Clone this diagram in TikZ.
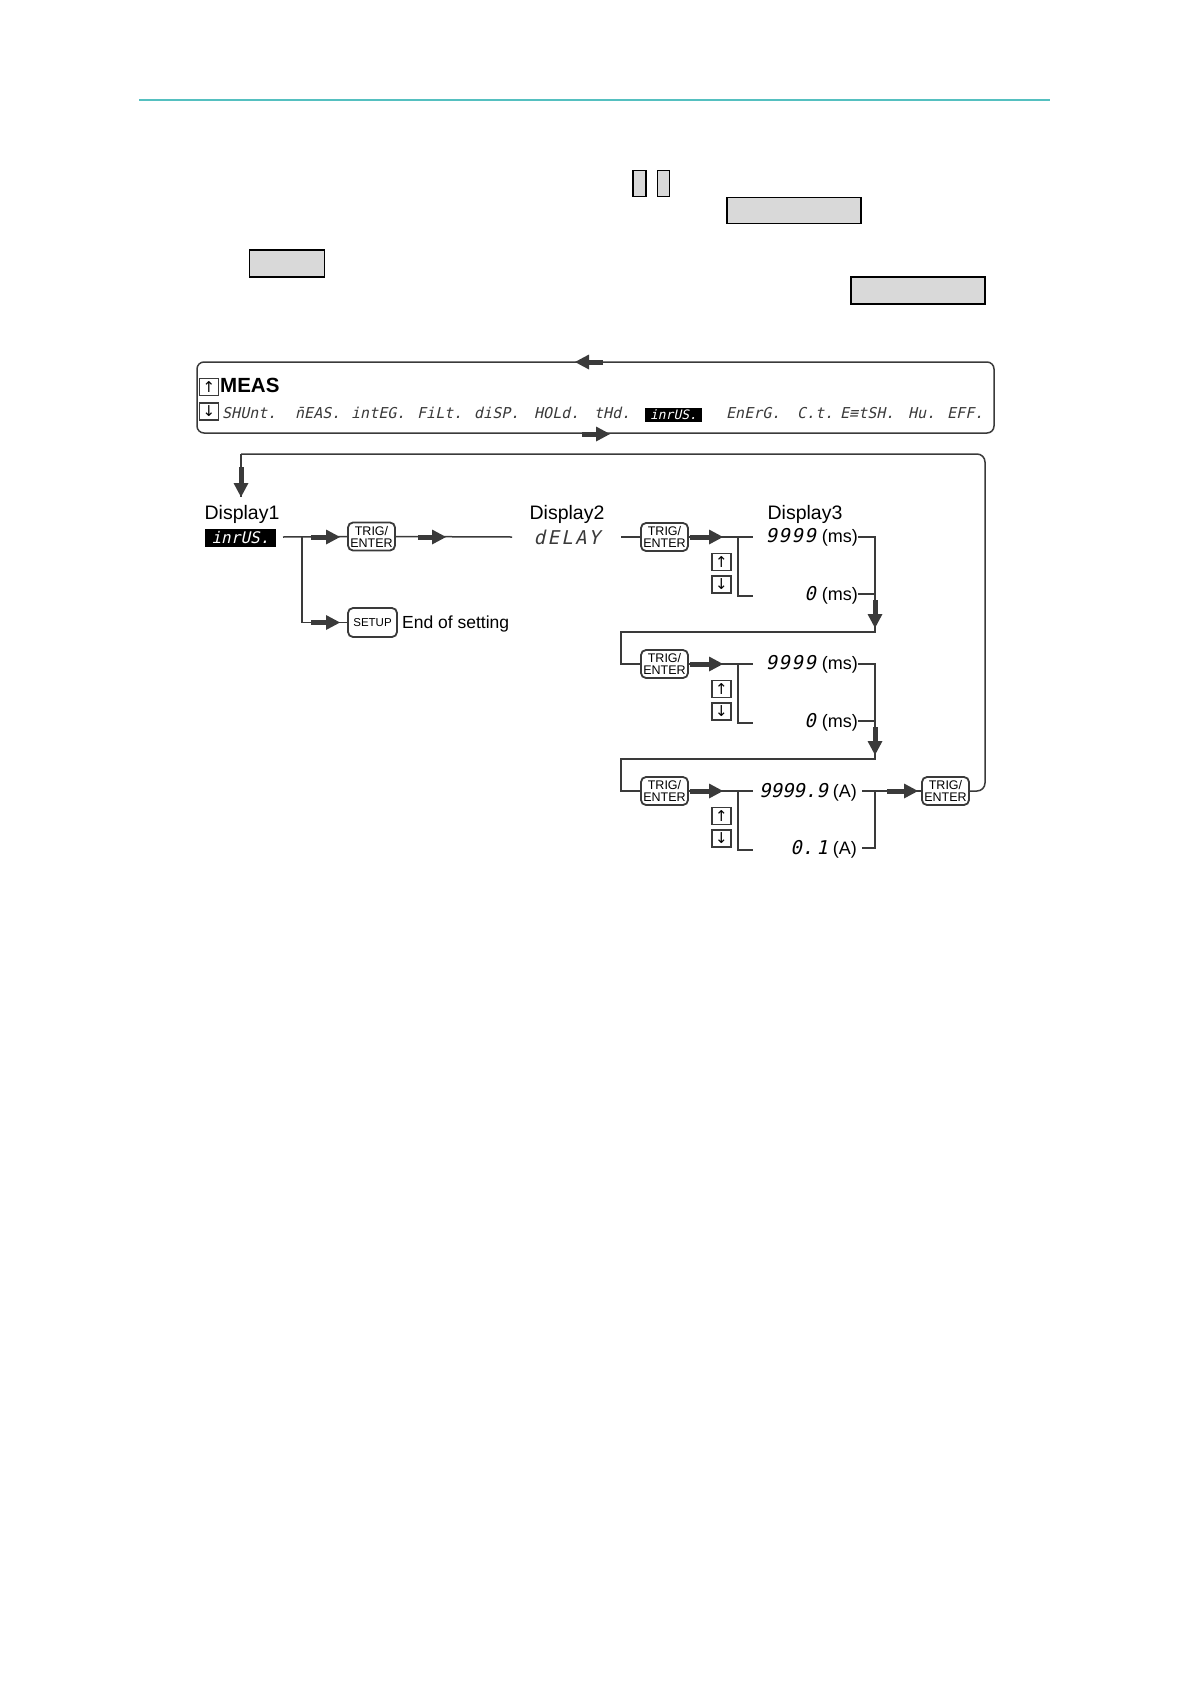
\documentclass[tikz,border=0pt]{standalone}
\usepackage{fontspec}
\setmainfont{Liberation Sans}
\newfontfamily\segf{DejaVu Sans Mono}[FakeSlant=0.22]
\newfontfamily\djv{DejaVu Sans}
\usetikzlibrary{arrows.meta,calc}
\definecolor{teal1}{HTML}{55C0C0}
\definecolor{ink}{HTML}{3A3A3A}
\definecolor{boxgray}{HTML}{D9D9D9}
\newcommand{\segbig}{\segf\fontsize{19}{19}\selectfont\addfontfeature{LetterSpace=8}}
\newcommand{\segplain}{\segf\fontsize{19}{19}\selectfont}
\tikzset{
 ln/.style={draw=ink, line width=1.5pt},
 fat/.style={draw=ink, line width=5pt, -{Triangle[length=14pt,width=15pt,line width=0pt]}, fill=ink},
 btn/.style={draw=ink, line width=1.8pt, rounded corners=5pt, fill=white, minimum width=47pt, minimum height=28pt, inner sep=0pt, align=center, font=\fontsize{12.5}{12}\selectfont},
 keyb/.style={draw=ink, line width=1.2pt, minimum width=19pt, minimum height=17pt, inner sep=0pt, font=\djv\fontsize{15}{15}\selectfont},
 gbox/.style={draw=black, line width=1.2pt, fill=boxgray, inner sep=0pt},
 seg/.style={font=\segf\fontsize{15}{15}\selectfont, inner sep=0pt, anchor=base west, text=ink},
 lbl/.style={font=\fontsize{19.5}{20}\selectfont, inner sep=0pt, anchor=base, text=black},
 val/.style={font=\fontsize{18}{18}\selectfont, inner sep=0pt, anchor=base east, text=black},
 hlt/.style={fill=black, text=white, inner sep=0pt},
}
\begin{document}
\begin{tikzpicture}[x=1pt,y=-1pt]
\useasboundingbox (0,0) rectangle (1190,1684);
% header line
\coordinate (tl) at (139,100);
\coordinate (tr) at (1050,100);
\draw[teal1, line width=2.8pt] (tl) -- (tr);
% gray boxes
\node[gbox, minimum width=13pt, minimum height=26pt] (gA) at (639.5,183.5) {};
\node[gbox, minimum width=12pt, minimum height=26pt] (gB) at (663.5,183.5) {};
\node[gbox, minimum width=134pt, minimum height=26pt] (gC) at (794,210.5) {};
\node[gbox, minimum width=75pt, minimum height=27pt] (gD) at (287,263.5) {};
\node[gbox, minimum width=134pt, minimum height=27pt] (gE) at (918,290.5) {};
% MEAS box
\node[draw=ink, line width=1.5pt, rounded corners=7pt, minimum width=797pt, minimum height=71pt, inner sep=0pt] (meas) at (595.5,397.5) {};
\coordinate (ta1) at (603,362); \coordinate (ta2) at (575,362);
\draw[fat] (ta1) -- (ta2);
\coordinate (ba1) at (582,434); \coordinate (ba2) at (610,434);
\draw[fat] (ba1) -- (ba2);
\node[keyb] (mu) at (209,387) {↑};
\node[keyb] (md) at (209,411.5) {↓};
\node[font=\bfseries\fontsize{20.5}{20}\selectfont, anchor=base west, inner sep=0pt] (meast) at (220,392.5) {MEAS};
\node[seg] (s1) at (222,418) {SHUnt.};
\node[seg] (s2) at (295,418) {\=nEAS.};
\node[seg] (s3) at (351,418) {intEG.};
\node[seg] (s4) at (417,418) {FiLt.};
\node[seg] (s5) at (474,418) {diSP.};
\node[seg] (s6) at (534,418) {HOLd.};
\node[seg] (s7) at (594,418) {tHd.};
\node[hlt, font=\segf\fontsize{13}{13}\selectfont, minimum width=57pt, minimum height=14pt] (s8) at (673.5,414.5) {inrUS.};
\node[seg] (s9) at (726,418) {EnErG.};
\node[seg] (s10) at (797,418) {C.t.};
\node[seg] (s11) at (840,418) {E≡tSH.};
\node[seg] (s12) at (908,418) {Hu.};
\node[seg] (s13) at (947,418) {EFF.};
% Display labels
\node[lbl] (d1) at (242,519) {Display1};
\node[lbl] (d2) at (567,519) {Display2};
\node[lbl] (d3) at (805,519) {Display3};
\node[hlt, font=\segf\fontsize{16}{16}\selectfont, minimum width=71pt, minimum height=18pt] (d1v) at (240.5,538) {inrUS.};
\node[font=\segbig\addfontfeature{LetterSpace=12}, anchor=base, inner sep=0pt, text=ink] (dl) at (567,544) {dELAY};
% buttons
\node[btn] (b1) at (371.5,536.5) {TRIG/\\ENTER};
\node[btn, minimum width=49pt, minimum height=29pt, font=\fontsize{11.5}{11}\selectfont] (su) at (372.5,622.5) {SETUP};
\node[font=\fontsize{17.5}{18}\selectfont, anchor=base west, inner sep=0pt] (eos) at (402,628) {End of setting};
\node[btn] (b2) at (664.5,537) {TRIG/\\ENTER};
\node[btn] (b3) at (664.5,664) {TRIG/\\ENTER};
\node[btn] (b4) at (664.5,791) {TRIG/\\ENTER};
\node[btn] (b5) at (945.5,791) {TRIG/\\ENTER};
% return path
\coordinate (rtop) at (985,454);
\coordinate (ltop) at (241,454);
\coordinate (d1tip) at (241,497);
\draw[ln, rounded corners=8pt] (b5.east) -| (rtop) -- (ltop);
\draw[ln] (ltop) -- (d1tip);
\draw[fat] (241,467) -- (d1tip);
% Display1 branches
\coordinate (d1s) at (283,537);
\coordinate (br) at (302,537);
\draw[ln] (d1s) -- (b1.west);
\draw[ln] (br) |- (su.west);
\draw[fat] (311,537) -- (340,537);
\draw[fat] (311,622.5) -- (340,622.5);
\coordinate (d2in) at (512,537);
\draw[ln] (b1.east) -- (d2in);
\draw[fat] (418,537) -- (446,537);
% group 1
\coordinate (g1s) at (621,537);
\draw[ln] (g1s) -- (b2.west);
\draw[ln] (b2.east) -- (753,537);
\draw[fat] (690,537) -- (723,537);
\draw[ln] (738,537) -- (738,596) -- (753,596);
\node[keyb] (k1u) at (721.5,562) {↑};
\node[keyb] (k1d) at (721.5,584.5) {↓};
\node[val] (v1t) at (858,542) {{\segbig 9999}\hspace{6pt}(ms)};
\node[val] (v1b) at (858,600) {{\segbig 0}\hspace{6pt}(ms)};
\draw[ln] ([yshift=5pt]v1t.base east) -- (875,537) -- (875,632) -- (621,632) -- (621,664) -- (b3.west);
\draw[ln] ([yshift=6pt]v1b.base east) -- (875,594);
\draw[fat] (875,600) -- (875,628);
% group 2
\draw[ln] (b3.east) -- (753,664);
\draw[fat] (690,664) -- (723,664);
\draw[ln] (738,664) -- (738,723) -- (753,723);
\node[keyb] (k2u) at (721.5,689) {↑};
\node[keyb] (k2d) at (721.5,711.5) {↓};
\node[val] (v2t) at (858,669) {{\segbig 9999}\hspace{6pt}(ms)};
\node[val] (v2b) at (858,727) {{\segbig 0}\hspace{6pt}(ms)};
\draw[ln] ([yshift=5pt]v2t.base east) -- (875,664) -- (875,759) -- (621,759) -- (621,791) -- (b4.west);
\draw[ln] ([yshift=6pt]v2b.base east) -- (875,721);
\draw[fat] (875,727) -- (875,755);
% group 3
\draw[ln] (b4.east) -- (753,791);
\draw[fat] (690,791) -- (723,791);
\draw[ln] (738,791) -- (738,850) -- (753,850);
\node[keyb] (k3u) at (721.5,816) {↑};
\node[keyb] (k3d) at (721.5,838.5) {↓};
\node[val] (v3t) at (857,797) {{\segplain 9999.9}\hspace{5pt}(A)};
\node[val] (v3b) at (857,854) {{\segplain 0.\,1}\hspace{5pt}(A)};
\draw[ln] ([xshift=5pt,yshift=6pt]v3t.base east) -- (b5.west);
\draw[fat] (887,791) -- (918,791);
\draw[ln] (875,791) -- (875,848) -- ([xshift=5pt,yshift=6pt]v3b.base east);
\end{tikzpicture}
\end{document}
